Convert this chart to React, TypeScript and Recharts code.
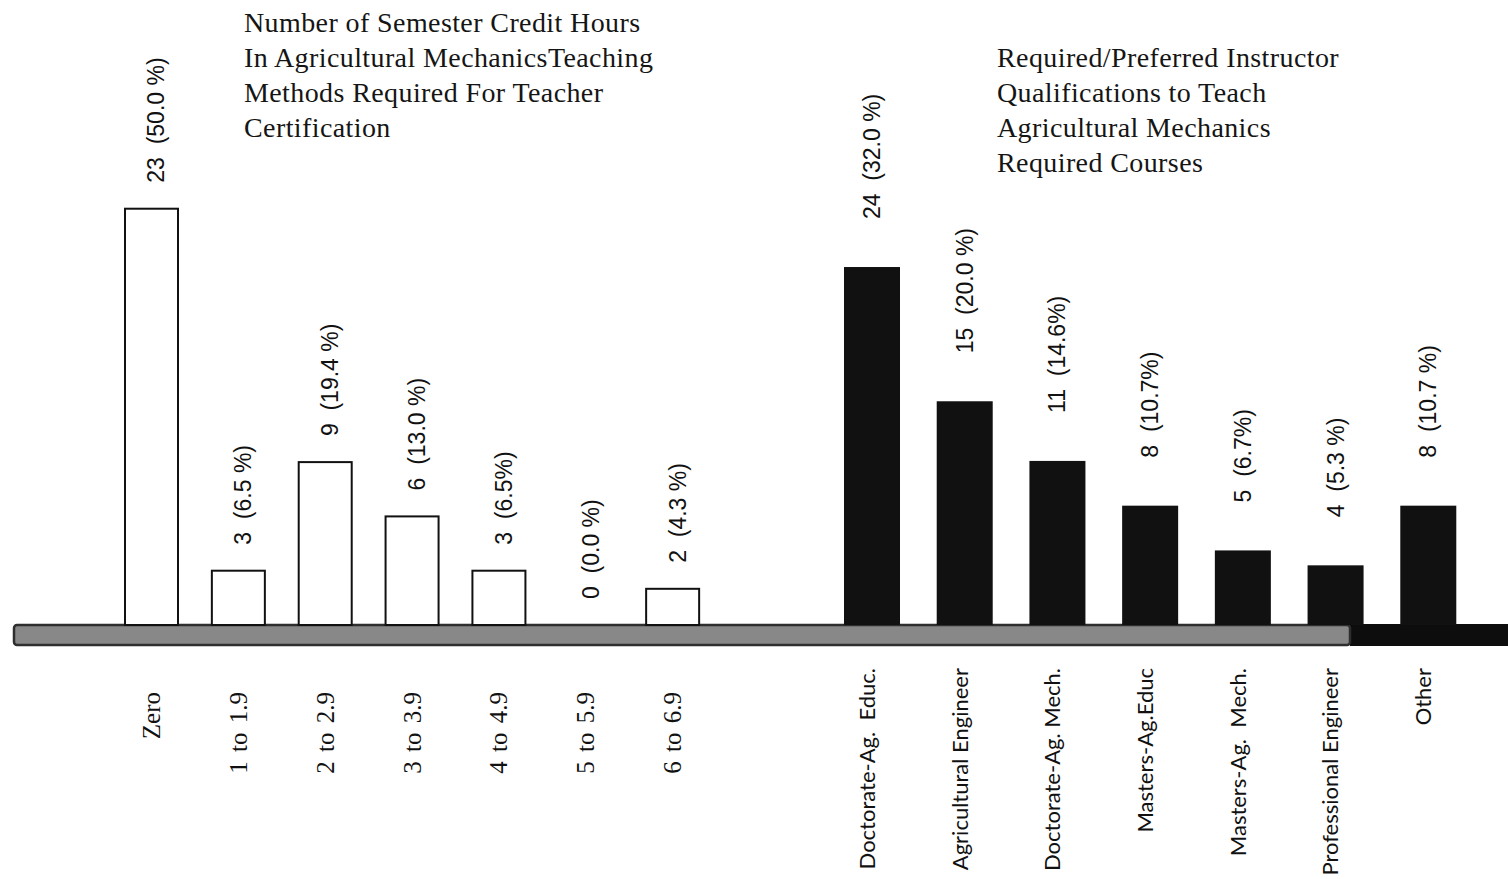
import { BarChart, Bar, XAxis, YAxis, usePlotArea } from "recharts";

// credit hours of teaching methods required for certification
const hoursCategories = ["Zero", "1 to 1.9", "2 to 2.9", "3 to 3.9", "4 to 4.9", "5 to 5.9", "6 to 6.9"];
const hoursCounts = [23, 3, 9, 6, 3, 0, 2];
const hoursPercents = ["50.0 %", "6.5 %", "19.4 %", "13.0 %", "6.5%", "0.0 %", "4.3 %"];

// required / preferred instructor qualifications
const qualCategories = [
  "Doctorate-Ag.  Educ.",
  "Agricultural Engineer",
  "Doctorate-Ag. Mech.",
  "Masters-Ag.Educ",
  "Masters-Ag.  Mech.",
  "Professional Engineer",
  "Other",
];
const qualCounts = [24, 15, 11, 8, 5, 4, 8];
const qualPercents = ["32.0 %", "20.0 %", "14.6%", "10.7%", "6.7%", "5.3 %", "10.7 %"];

const hoursTitle = [
  "Number of Semester Credit Hours",
  "In Agricultural MechanicsTeaching",
  "Methods Required For Teacher",
  "Certification",
];
const qualTitle = [
  "Required/Preferred Instructor",
  "Qualifications to Teach",
  "Agricultural Mechanics",
  "Required Courses",
];

const rows = hoursCategories.map((h, i) => ({
  hours: h,
  hoursCount: hoursCounts[i],
  hoursLabel: `${hoursCounts[i]}  (${hoursPercents[i]})`,
  qual: qualCategories[i],
  qualCount: qualCounts[i],
  qualLabel: `${qualCounts[i]}  (${qualPercents[i]})`,
}));

const W = 1508;
const H = 879;
const SERIF = "'Liberation Serif', 'Times New Roman', serif";
const SANS = "'Liberation Sans', Arial, sans-serif";

// bar rectangle plus its rotated "count (percent)" caption above it;
// drawn together so the empty category still gets its caption
function barWithCaption(labelKey: string, gap: number, dx: number, fill: string, stroke?: string) {
  return (props: any) => {
    const x = Number(props.x);
    const y = Number(props.y);
    const w = Number(props.width);
    const h = Number(props.height);
    const cx = x + w / 2 + dx;
    const ty = y - gap;
    const caption = props.payload ? props.payload[labelKey] : "";
    return (
      <g>
        {h > 0 && (
          <rect
            x={x}
            y={y}
            width={w}
            height={h}
            fill={fill}
            stroke={stroke ?? "none"}
            strokeWidth={stroke ? 2 : 0}
          />
        )}
        <text
          x={cx}
          y={ty}
          transform={`rotate(-90 ${cx} ${ty})`}
          textAnchor="start"
          dominantBaseline="central"
          fontFamily={SANS}
          fontSize={23}
          fill="#111"
          style={{ whiteSpace: "pre" }}
        >
          {caption}
        </text>
      </g>
    );
  };
}

function HoursTick({ x, y, payload }: any) {
  const ty = y + 67;
  return (
    <text
      x={x}
      y={ty}
      transform={`rotate(-90 ${x} ${ty})`}
      textAnchor="end"
      dominantBaseline="central"
      fontFamily={SERIF}
      fontSize={25}
      wordSpacing={3}
      fill="#111"
      style={{ whiteSpace: "pre" }}
    >
      {payload.value}
    </text>
  );
}

function QualTick({ x, y, payload }: any) {
  const ty = y + 42;
  return (
    <text
      x={x - 6}
      y={ty}
      transform={`rotate(-90 ${x - 6} ${ty})`}
      textAnchor="end"
      dominantBaseline="central"
      fontFamily="Lato, 'Open Sans', sans-serif"
      fontSize={22}
      fill="#111"
      style={{ whiteSpace: "pre" }}
    >
      {payload.value}
    </text>
  );
}

// thick grey floor under both groups, turning solid black at the far right
function FloorBar() {
  const plot = usePlotArea();
  if (!plot) return null;
  const y = plot.y + plot.height;
  const split = 1350;
  return (
    <g>
      <rect x={split} y={y - 1} width={W - split} height={22} fill="#0d0d0d" />
      <rect
        x={14}
        y={y}
        width={split - 14}
        height={20}
        rx={3}
        fill="#888"
        stroke="#2e2e2e"
        strokeWidth={2.5}
      />
    </g>
  );
}

function Title({ lines, left, top }: { lines: string[]; left: number; top: number }) {
  return (
    <div
      style={{
        position: "absolute",
        left,
        top,
        fontFamily: SERIF,
        fontSize: 28,
        lineHeight: "35px",
        letterSpacing: 0.4,
        color: "#151515",
        whiteSpace: "pre",
      }}
    >
      {lines.map((l) => (
        <div key={l}>{l}</div>
      ))}
    </div>
  );
}

export default function App() {
  return (
    <div style={{ position: "relative", width: W, height: H, background: "#fff" }}>
      <style>{"body{margin:0}"}</style>
      <BarChart
        width={W}
        height={H}
        data={rows}
        margin={{ top: 6, right: 0, bottom: 24, left: 0 }}
      >
        {/* both category axes sit on the same floor: the first one is only 1px tall */}
        <XAxis
          xAxisId="hours"
          dataKey="hours"
          height={1}
          axisLine={false}
          tickLine={false}
          tickSize={0}
          tickMargin={0}
          interval={0}
          padding={{ left: 108, right: 792 }}
          tick={<HoursTick />}
        />
        <XAxis
          xAxisId="qual"
          dataKey="qual"
          height={229}
          axisLine={false}
          tickLine={false}
          tickSize={0}
          tickMargin={0}
          interval={0}
          padding={{ left: 826, right: 33 }}
          tick={<QualTick />}
        />
        <YAxis yAxisId="hours" hide domain={[0, 34.2]} />
        <YAxis yAxisId="qual" hide domain={[0, 41.5]} />
        <FloorBar />
        <Bar
          xAxisId="hours"
          yAxisId="hours"
          dataKey="hoursCount"
          barSize={53}
          isAnimationActive={false}
          shape={barWithCaption("hoursLabel", 26, 5, "#fff", "#111")}
        />
        <Bar
          xAxisId="qual"
          yAxisId="qual"
          dataKey="qualCount"
          barSize={56}
          isAnimationActive={false}
          shape={barWithCaption("qualLabel", 48, 0, "#111")}
        />
      </BarChart>
      <Title lines={hoursTitle} left={244} top={5} />
      <Title lines={qualTitle} left={997} top={40} />
    </div>
  );
}
